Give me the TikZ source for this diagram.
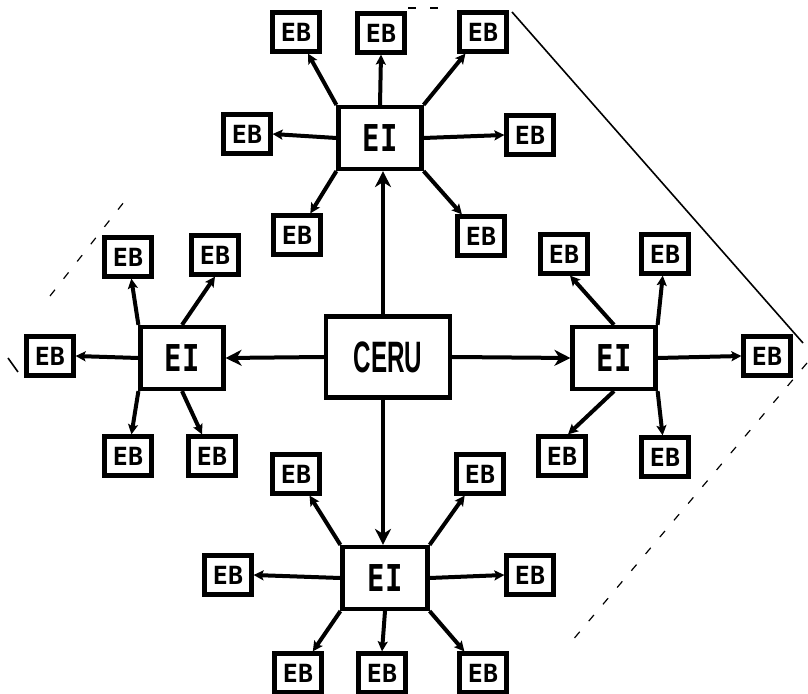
\documentclass[tikz,border=0pt]{standalone}
\usepackage{fontspec}
\setmainfont{Liberation Sans}
\newfontfamily\monob{DejaVu Sans Mono}
\usetikzlibrary{arrows.meta,calc}
\begin{document}
\begin{tikzpicture}[x=0.5pt,y=-0.5pt,
  box/.style={draw, line width=2.1pt, inner sep=0pt, fill=white},
  ebbox/.style={box, minimum width=23.5pt, minimum height=19.5pt, font=\monob\bfseries\fontsize{12.5}{12.5}\selectfont},
  eibox/.style={box, minimum width=41.5pt, minimum height=31pt, font=\monob\bfseries\fontsize{18.5}{18.5}\selectfont},
  cerubox/.style={box, minimum width=62pt, minimum height=40.5pt, font=\bfseries\fontsize{22}{22}\selectfont},
  link/.style={line width=2pt, -{Stealth[length=5pt,width=5pt,inset=1pt]}},
  mainlink/.style={line width=2pt, -{Stealth[length=8pt,width=8pt,inset=2.5pt]}},
  trace/.style={line width=0.6pt, dash pattern=on 4pt off 7pt},
  edge/.style={line width=0.8pt}]
\useasboundingbox (0,0) rectangle (808,694);

% central unit
\node[cerubox] (ceru) at (388,357) {\scalebox{0.55}[1]{CERU}};

% intermediate units
\node[eibox] (ei1) at (380,138) {\scalebox{0.78}[1]{EI}};
\node[eibox] (ei2) at (182,358) {\scalebox{0.78}[1]{EI}};
\node[eibox] (ei3) at (614,358) {\scalebox{0.78}[1]{EI}};
\node[eibox, minimum width=42.5pt] (ei4) at (385,578) {\scalebox{0.78}[1]{EI}};

% top group
\node[ebbox] (a1) at (296,32) {EB};
\node[ebbox] (a2) at (381,33) {EB};
\node[ebbox] (a3) at (483,32) {EB};
\node[ebbox] (a4) at (247,134) {EB};
\node[ebbox] (a5) at (530,135) {EB};
\node[ebbox] (a6) at (297,235) {EB};
\node[ebbox] (a7) at (481,236) {EB};
% left group
\node[ebbox] (b1) at (128,257) {EB};
\node[ebbox] (b2) at (215,255) {EB};
\node[ebbox] (b3) at (50,356) {EB};
\node[ebbox] (b4) at (128,456) {EB};
\node[ebbox] (b5) at (212,456) {EB};
% right group
\node[ebbox] (c1) at (564,254) {EB};
\node[ebbox] (c2) at (665,254) {EB};
\node[ebbox] (c3) at (767,356) {EB};
\node[ebbox] (c4) at (562,456) {EB};
\node[ebbox] (c5) at (665,457) {EB};
% bottom group
\node[ebbox] (d1) at (296,474) {EB};
\node[ebbox] (d2) at (480,474) {EB};
\node[ebbox] (d3) at (228,575) {EB};
\node[ebbox] (d4) at (530,575) {EB};
\node[ebbox] (d5) at (298,673) {EB};
\node[ebbox] (d6) at (382,673) {EB};
\node[ebbox] (d7) at (483,673) {EB};

% central links
\draw[mainlink] (ceru.north -| ei1.south) ++(3,0) coordinate (cn) -- (cn |- ei1.south);
\draw[mainlink] (ceru.south -| ei4.north) ++(-2,0) coordinate (cs) -- (cs |- ei4.north);
\draw[mainlink] (ceru.west) -- (ei2.east);
\draw[mainlink] (ceru.east) -- (ei3.west);

% top links
\draw[link] (ei1.north west) -- (a1);
\draw[link] (ei1.north) -- (a2.south);
\draw[link] (ei1.north east) -- (a3);
\draw[link] (ei1.west) -- (a4.east);
\draw[link] (ei1.east) -- (a5.west);
\draw[link] (ei1.south west) -- (a6);
\draw[link] (ei1.south east) -- (a7);
% left links
\draw[link] (ei2.north west) -- (b1);
\draw[link] (ei2.north) -- (b2.south);
\draw[link] (ei2.west) -- (b3.east);
\draw[link] (ei2.south west) -- (b4);
\draw[link] (ei2.south) -- (b5);
% right links
\draw[link] (ei3.north) -- ($(c1.south)+(6,0)$);
\draw[link] (ei3.north east) -- (c2);
\draw[link] (ei3.east) -- (c3.west);
\draw[link] (ei3.south) -- ($(c4.north)+(6,0)$);
\draw[link] (ei3.south east) -- (c5);
% bottom links
\draw[link] (ei4.north west) -- (d1);
\draw[link] (ei4.north east) -- (d2);
\draw[link] (ei4.west) -- (d3.east);
\draw[link] (ei4.east) -- (d4.west);
\draw[link] (ei4.south west) -- (d5);
\draw[link] (ei4.south) -- (d6.north);
\draw[link] (ei4.south east) -- (d7);

% faint outline traces
\coordinate (t1) at (512,12);
\coordinate (t2) at (803,343);
\draw[edge] (t1) -- (t2);
\coordinate (t3) at (807,363);
\coordinate (t4) at (566,648);
\draw[trace] (t3) -- (t4);
\coordinate (t5) at (50,296);
\coordinate (t6) at (124,202);
\draw[trace] (t5) -- (t6);
\coordinate (t7) at (8,358);
\coordinate (t8) at (18,372);
\draw[edge] (t7) -- (t8);
\coordinate (t9) at (408,8);
\coordinate (t10) at (447,8);
\draw[trace] (t9) -- (t10);
\end{tikzpicture}
\end{document}
